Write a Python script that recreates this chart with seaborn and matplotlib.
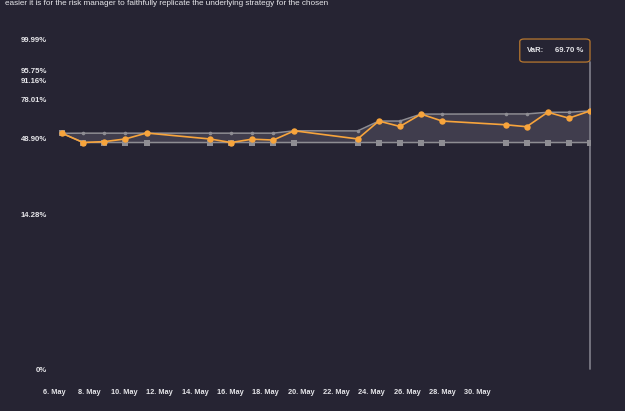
import numpy as np
import pandas as pd
import matplotlib
matplotlib.use("Agg")
import matplotlib.pyplot as plt
from matplotlib.patches import FancyBboxPatch
import seaborn as sns

# trading days shown on the chart
dates = ["2019-05-06", "2019-05-07", "2019-05-08", "2019-05-09", "2019-05-10",
         "2019-05-13", "2019-05-14", "2019-05-15", "2019-05-16", "2019-05-17",
         "2019-05-20", "2019-05-21", "2019-05-22", "2019-05-23", "2019-05-24",
         "2019-05-27", "2019-05-28", "2019-05-29", "2019-05-30", "2019-05-31"]

# series values (percent)
var_values = [52.7, 47.0, 47.4, 48.6, 52.9,
              48.6, 47.0, 48.5, 48.1, 54.6,
              48.6, 62.0, 57.9, 67.3, 62.0,
              59.2, 57.7, 68.7, 64.2, 69.70]
upper_values = [52.7, 52.8, 52.8, 52.8, 52.8,
                52.8, 52.8, 52.8, 52.8, 54.6,
                54.5, 62.0, 62.0, 67.3, 67.3,
                67.4, 67.4, 68.7, 68.7, 69.70]
lower_values = [52.7, 47.0, 47.0, 47.0, 47.0,
                47.0, 47.0, 47.0, 47.0, 47.0,
                47.0, 47.0, 47.0, 47.0, 47.0,
                47.0, 47.0, 47.0, 47.0, 47.0]

# y axis tick labels (percentile axis)
y_ticks = [0, 14.28, 48.90, 78.01, 91.16, 95.75, 99.99]
y_tick_labels = ["0%", "14.28%", "48.90%", "78.01%", "91.16%", "95.75%", "99.99%"]
x_tick_labels = ["6. May", "8. May", "10. May", "12. May", "14. May", "16. May", "18. May",
                 "20. May", "22. May", "24. May", "26. May", "28. May", "30. May"]

BG = "#262433"
ORANGE = "#f7a43c"
GRAY = "#8e8d93"
TEXT = "#e6e6ea"

sns.set_style("dark", rc={"axes.facecolor": BG, "figure.facecolor": BG})
plt.rcParams["font.family"] = ["Liberation Sans", "DejaVu Sans"]

df = pd.DataFrame({"date": pd.to_datetime(dates), "var": var_values,
                   "upper": upper_values, "lower": lower_values})
df["day"] = (df["date"] - df["date"].iloc[0]).dt.days

fig = plt.figure(figsize=(6.25, 4.11), dpi=100)
ax = fig.add_axes([54 / 625, 41.7 / 411, 536 / 625, 329.3 / 411])

# non-linear percentile axis: tick values placed at fixed fractions of the height
tick_frac = [0, 0.4686, 0.7015, 0.8178, 0.8755, 0.9059, 1.0]
fwd = lambda v: np.interp(v, y_ticks, tick_frac)
inv = lambda p: np.interp(p, tick_frac, y_ticks)
ax.set_yscale("function", functions=(fwd, inv))

ax.fill_between(df["day"], df["lower"], df["upper"], color="#403d4d", lw=0, zorder=1)
sns.lineplot(data=df, x="day", y="lower", ax=ax, color=GRAY, lw=1.1,
             marker="s", markersize=3.8, markeredgewidth=0, zorder=2)
sns.lineplot(data=df, x="day", y="upper", ax=ax, color=GRAY, lw=1.1,
             marker="o", markersize=2.6, markeredgewidth=0, zorder=3)
sns.lineplot(data=df, x="day", y="var", ax=ax, color=ORANGE, lw=1.2,
             marker="o", markersize=4.6, markeredgewidth=0, zorder=4)

# crosshair at the last point
last_day = df["day"].iloc[-1]
ax.axvline(last_day, ymin=0, ymax=0.933, color="#7a7984", lw=1.3, zorder=1.5,
           clip_on=False)

ax.set_xlim(-0.38, last_day)
ax.set_ylim(0, 99.99)
ax.set_yticks(y_ticks)
ax.set_yticklabels(y_tick_labels)
ax.set_xticks(np.arange(len(x_tick_labels)) * 1.671 - 0.38)
ax.set_xticklabels(x_tick_labels)
ax.tick_params(axis="y", length=0, pad=5, labelsize=5.6, labelcolor=TEXT)
ax.tick_params(axis="x", length=0, pad=14, labelsize=5.3, labelcolor=TEXT)
for lbl in ax.get_xticklabels() + ax.get_yticklabels():
    lbl.set_fontweight("bold")
ax.set_xlabel("")
ax.set_ylabel("")
ax.grid(False)
for s in ax.spines.values():
    s.set_visible(False)

# tooltip box at the last point
box = FancyBboxPatch((0.869, 0.933), 0.131, 0.070, transform=ax.transAxes,
                     boxstyle="round,pad=0,rounding_size=0.008", fc=BG, ec="#b8782f",
                     lw=0.9, zorder=5, clip_on=False)
ax.add_patch(box)
ax.text(0.882, 0.968, "VaR:", transform=ax.transAxes, color=TEXT, fontsize=5.6,
        fontweight="bold", ha="left", va="center", zorder=6)
ax.text(0.988, 0.968, "%.2f %%" % var_values[-1], transform=ax.transAxes, color=TEXT,
        fontsize=5.6, fontweight="bold", ha="right", va="center", zorder=6)

# text from the surrounding page
fig.text(5 / 625, 0.999, "easier it is for the risk manager to faithfully replicate the underlying strategy for the chosen",
         color=TEXT, fontsize=5.9, ha="left", va="top")

fig.savefig("out.png", dpi=100, facecolor=BG)
